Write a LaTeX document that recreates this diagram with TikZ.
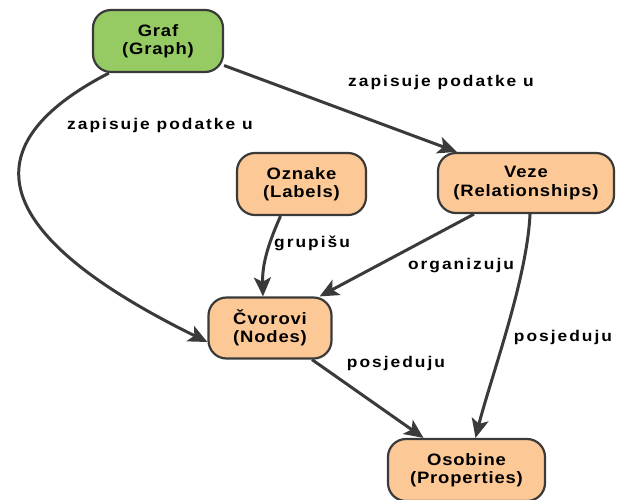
\documentclass[tikz,border=0pt]{standalone}
\usepackage{fontspec}
\usetikzlibrary{arrows.meta}
\newfontfamily\diagfont{Liberation Sans}[FakeStretch=1.12, LetterSpace=5]
\newfontfamily\edgefont{Liberation Sans}[FakeStretch=1.12, LetterSpace=13]
\definecolor{edgegray}{HTML}{3A3A3A}
\definecolor{boxorange}{HTML}{FCC896}
\definecolor{boxgreen}{HTML}{96CB64}
\tikzset{
  entity/.style={draw=edgegray, line width=2.2pt, rounded corners=18pt,
    fill=boxorange, align=center, inner sep=0pt,
    font=\diagfont\bfseries\fontsize{16.5}{18.5}\selectfont},
  link/.style={draw=edgegray, line width=3pt,
    -{Stealth[length=19pt, width=17pt, inset=4.5pt]}},
  linklabel/.style={font=\edgefont\bfseries\fontsize{15.5}{17}\selectfont,
    text=black, inner sep=0pt}
}
\begin{document}
\begin{tikzpicture}[x=1pt, y=-1pt]
\useasboundingbox (0,0) rectangle (634,499);

% entities
\node[entity, fill=boxgreen, minimum width=130pt, minimum height=62pt]
  (graf) at (158,41) {Graf\\(Graph)};
\node[entity, minimum width=129pt, minimum height=62pt]
  (ozn) at (301.5,184) {Oznake\\(Labels)};
\node[entity, minimum width=176pt, minimum height=60pt]
  (veze) at (526,183) {Veze\\(Relationships)};
\node[entity, minimum width=123pt, minimum height=61pt]
  (cv) at (270,328) {Čvorovi\\(Nodes)};
\node[entity, minimum width=157pt, minimum height=62pt]
  (oso) at (466.5,470) {Osobine\\(Properties)};

% relations
\draw[link] (graf) -- ([xshift=20pt]veze.north west);
\draw[link] ([xshift=17pt]graf.south west)
  .. controls (-40,150) and (0,240) .. ([yshift=-14pt]cv.west);
\draw[link] ([xshift=-21pt]ozn.south)
  .. controls (270,240) and (262,262) .. ([xshift=-7pt]cv.north);
\draw[link] ([xshift=-52pt]veze.south) -- ([xshift=-13pt]cv.north east);
\draw[link] ([xshift=4pt]veze.south)
  .. controls (527,280) and (490,380) .. ([xshift=9pt]oso.north);
\draw[link] ([xshift=42pt]cv.south) -- ([xshift=-43pt]oso.north);

% relation labels
\node[linklabel] (l1) at (441,82) {zapisuje podatke u};
\node[linklabel] (l2) at (160,125) {zapisuje podatke u};
\node[linklabel] (l3) at (312,243) {grupišu};
\node[linklabel] (l4) at (461,266) {organizuju};
\node[linklabel] (l5) at (563,337) {posjeduju};
\node[linklabel] (l6) at (396,363) {posjeduju};
\end{tikzpicture}
\end{document}
